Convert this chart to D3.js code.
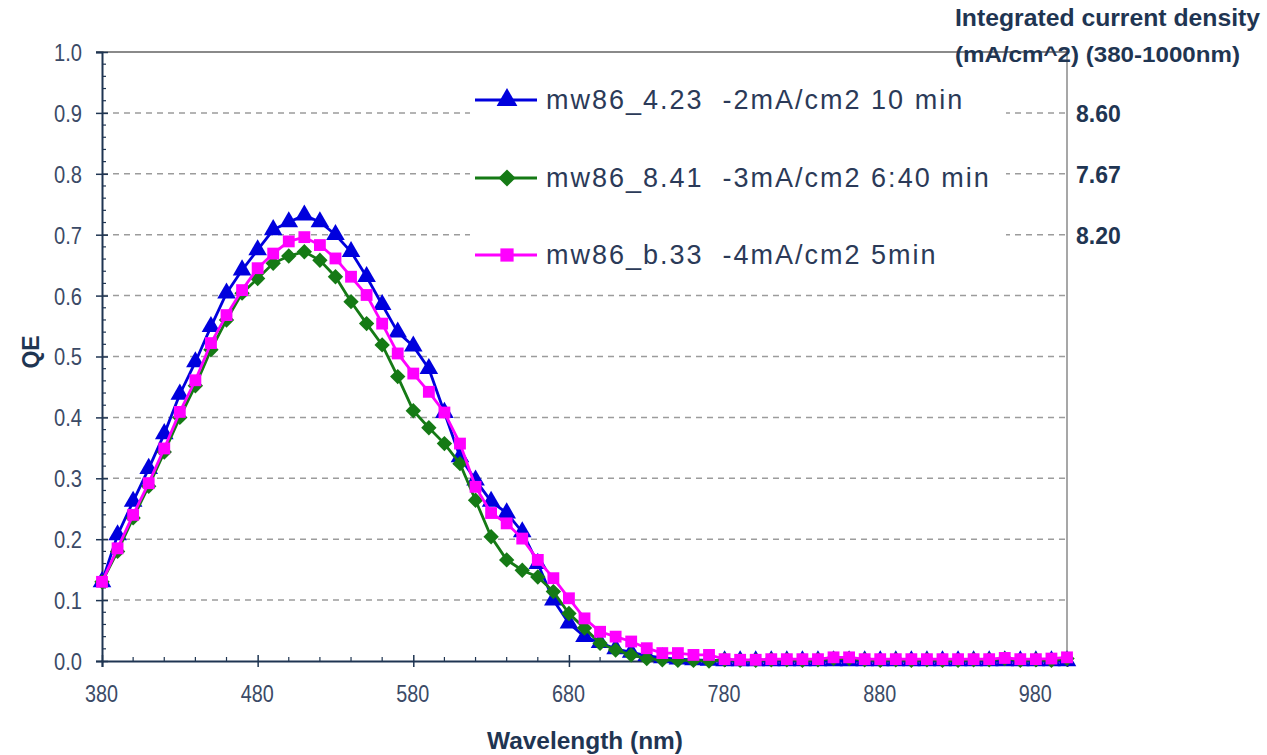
<!DOCTYPE html>
<html>
<head>
<meta charset="utf-8">
<script src="https://cdn.jsdelivr.net/npm/d3@7"></script>
<style>
  html, body { margin: 0; padding: 0; background: #ffffff; }
  svg { display: block; }
  text { font-family: Arial, "Liberation Sans", sans-serif; }
</style>
</head>
<body>
<svg id="chart" width="1267" height="755"></svg>
<script>
// Wavelength grid (nm), 10 nm steps
const wavelengths = d3.range(380, 1001, 10);

// QE per series, one value per wavelength
const qeA = [ // mw86_4.23
  0.130, 0.207, 0.262, 0.316, 0.373, 0.438, 0.491, 0.549, 0.604, 0.642,
  0.675, 0.708, 0.721, 0.732, 0.721, 0.700, 0.672, 0.631, 0.585, 0.540,
  0.517, 0.480, 0.408, 0.335, 0.297, 0.262, 0.243, 0.212, 0.160, 0.100,
  0.062, 0.040, 0.030, 0.020, 0.014, 0.009, 0.005, 0.003, 0.002, 0.001,
  0.000, 0.000, 0.000, 0.000, 0.000, 0.000, 0.000, 0.000, 0.000, 0.000,
  0.000, 0.000, 0.000, 0.000, 0.000, 0.000, 0.000, 0.000, 0.000, 0.000,
  0.000, 0.000, 0.000
];
const qeB = [ // mw86_8.41
  0.130, 0.180, 0.235, 0.287, 0.343, 0.400, 0.452, 0.511, 0.560, 0.604,
  0.628, 0.653, 0.665, 0.672, 0.658, 0.631, 0.590, 0.554, 0.519, 0.467,
  0.411, 0.383, 0.357, 0.324, 0.264, 0.204, 0.166, 0.149, 0.138, 0.114,
  0.078, 0.054, 0.029, 0.018, 0.010, 0.004, 0.002, 0.001, 0.001, 0.000,
  0.002, 0.001, 0.001, 0.002, 0.002, 0.001, 0.002, 0.004, 0.004, 0.002,
  0.001, 0.002, 0.001, 0.002, 0.001, 0.001, 0.002, 0.002, 0.004, 0.001,
  0.002, 0.001, 0.004
];
const qeC = [ // mw86_b.33
  0.130, 0.185, 0.240, 0.292, 0.349, 0.409, 0.461, 0.522, 0.568, 0.609,
  0.645, 0.669, 0.689, 0.696, 0.683, 0.661, 0.631, 0.601, 0.554, 0.505,
  0.472, 0.442, 0.408, 0.357, 0.286, 0.243, 0.226, 0.201, 0.166, 0.136,
  0.103, 0.070, 0.048, 0.040, 0.032, 0.021, 0.013, 0.013, 0.010, 0.010,
  0.003, 0.002, 0.002, 0.003, 0.003, 0.003, 0.003, 0.006, 0.006, 0.003,
  0.003, 0.003, 0.003, 0.003, 0.003, 0.003, 0.003, 0.003, 0.005, 0.003,
  0.003, 0.004, 0.006
];

const seriesNames = [
  "mw86_4.23  -2mA/cm2 10 min",
  "mw86_8.41  -3mA/cm2 6:40 min",
  "mw86_b.33  -4mA/cm2 5min"
];
const seriesColors = ["#0000dd", "#157a15", "#ff00ff"];
const seriesMarkers = ["triangle", "diamond", "square"];

// Integrated current density (mA/cm^2), listed against the QE levels 0.9/0.8/0.7
const integratedLabels = ["8.60", "7.67", "8.20"];
const integratedLevels = [0.9, 0.8, 0.7];

const xTicks = [380, 480, 580, 680, 780, 880, 980];
const yTicks = d3.range(0, 11).map(i => i / 10);

const svg = d3.select("#chart");
const plotLeft = 102, plotRight = 1067, plotTop = 52, plotBottom = 661;

const x = d3.scaleLinear().domain([380, 1000]).range([plotLeft, plotRight]);
const y = d3.scaleLinear().domain([0, 1]).range([plotBottom, plotTop]);

const axisColor = "#1f3552";
const labelColor = "#3b4a66";

// Dashed horizontal grid
svg.append("g")
  .selectAll("line")
  .data(yTicks.filter(v => v > 0 && v < 1))
  .join("line")
  .attr("x1", plotLeft).attr("x2", plotRight)
  .attr("y1", d => y(d)).attr("y2", d => y(d))
  .attr("stroke", "#9c9c9c")
  .attr("stroke-width", 1.5)
  .attr("stroke-dasharray", "6,5");

// Plot frame: top and right edges
svg.append("line")
  .attr("x1", plotLeft - 6).attr("x2", plotRight).attr("y1", plotTop).attr("y2", plotTop)
  .attr("stroke", "#8a8a8a").attr("stroke-width", 2);
svg.append("line")
  .attr("x1", plotRight).attr("x2", plotRight).attr("y1", plotTop).attr("y2", plotBottom)
  .attr("stroke", "#8a8a8a").attr("stroke-width", 1.5);

// Legend panel (white, hides the grid behind it)
const legendG = svg.append("g");
legendG.append("rect")
  .attr("x", 470).attr("y", 74).attr("width", 536).attr("height", 200)
  .attr("fill", "#ffffff");

// Y axis
const yAxis = svg.append("g")
  .attr("transform", `translate(${plotLeft},0)`)
  .call(d3.axisLeft(y).tickValues(yTicks).tickFormat(d3.format(".1f")).tickSize(6));
yAxis.select(".domain").attr("stroke", axisColor).attr("stroke-width", 2);
yAxis.selectAll(".tick line").attr("stroke", axisColor).attr("stroke-width", 1.5).attr("x1", 6);
yAxis.selectAll(".tick text")
  .attr("x", -20).attr("dy", "0.35em")
  .attr("fill", labelColor)
  .attr("font-family", "Arial, 'Liberation Sans', sans-serif")
  .style("font-size", "24px")
  .attr("textLength", 28).attr("lengthAdjust", "spacingAndGlyphs");

// Y minor ticks (inside)
svg.append("g")
  .selectAll("line")
  .data(d3.range(0, 51).map(i => i / 50).filter((v, i) => i % 5 !== 0))
  .join("line")
  .attr("x1", plotLeft).attr("x2", plotLeft + 4)
  .attr("y1", d => y(d)).attr("y2", d => y(d))
  .attr("stroke", axisColor).attr("stroke-width", 1.2);

// X axis
const xAxis = svg.append("g")
  .attr("transform", `translate(0,${plotBottom})`)
  .call(d3.axisBottom(x).tickValues(xTicks).tickFormat(d3.format("d")).tickSize(6));
xAxis.select(".domain").attr("stroke", axisColor).attr("stroke-width", 2);
xAxis.selectAll(".tick line").attr("stroke", axisColor).attr("stroke-width", 1.5).attr("y1", -6);
xAxis.selectAll(".tick text")
  .attr("x", -1).attr("y", 41).attr("dy", 0)
  .attr("fill", labelColor)
  .attr("font-family", "Arial, 'Liberation Sans', sans-serif")
  .style("font-size", "24px")
  .attr("textLength", 33).attr("lengthAdjust", "spacingAndGlyphs");

// X minor ticks (inside)
svg.append("g")
  .selectAll("line")
  .data(d3.range(380, 1001, 20).filter(v => (v - 380) % 100 !== 0))
  .join("line")
  .attr("x1", d => x(d)).attr("x2", d => x(d))
  .attr("y1", plotBottom).attr("y2", plotBottom - 4)
  .attr("stroke", axisColor).attr("stroke-width", 1.2);

// Axis titles
svg.append("text")
  .attr("transform", `translate(39,352) rotate(-90)`)
  .attr("text-anchor", "middle")
  .attr("fill", axisColor)
  .style("font-size", "23px").style("font-weight", "bold")
  .text("QE");
svg.append("text")
  .attr("x", 585).attr("y", 749)
  .attr("text-anchor", "middle")
  .attr("fill", axisColor)
  .style("font-size", "24px").style("font-weight", "bold")
  .attr("textLength", 196).attr("lengthAdjust", "spacingAndGlyphs")
  .text("Wavelength (nm)");

// Right-hand title and integrated current values
svg.append("text")
  .attr("x", 955).attr("y", 26)
  .attr("fill", axisColor)
  .style("font-size", "23px").style("font-weight", "bold")
  .attr("textLength", 305).attr("lengthAdjust", "spacingAndGlyphs")
  .text("Integrated current density");
svg.append("text")
  .attr("x", 955).attr("y", 62)
  .attr("fill", axisColor)
  .style("font-size", "22px").style("font-weight", "bold")
  .attr("textLength", 285).attr("lengthAdjust", "spacingAndGlyphs")
  .text("(mA/cm^2) (380-1000nm)");
svg.append("g")
  .selectAll("text")
  .data(integratedLabels)
  .join("text")
  .attr("x", plotRight + 9)
  .attr("y", (d, i) => y(integratedLevels[i]) + 9.5)
  .attr("fill", axisColor)
  .style("font-size", "23px").style("font-weight", "bold")
  .text(d => d);

// Marker shapes
function markerPath(kind, scale = 1) {
  if (kind === "triangle") return d3.symbol().type(d3.symbolTriangle).size(150 * scale)();
  if (kind === "square") return d3.symbol().type(d3.symbolSquare).size(140 * scale)();
  return d3.symbol().type(d3.symbolSquare).size(118 * scale)();
}
function markerRotate(kind) { return kind === "diamond" ? " rotate(45)" : ""; }

const allSeries = [qeA, qeB, qeC];
const line = d3.line().x(d => x(d[0])).y(d => y(d[1]));

allSeries.forEach((vals, si) => {
  const pts = wavelengths.map((w, i) => [w, vals[i]]);
  const g = svg.append("g");
  g.append("path")
    .datum(pts)
    .attr("d", line)
    .attr("fill", "none")
    .attr("stroke", seriesColors[si])
    .attr("stroke-width", 2.8);
  g.selectAll("path.mk")
    .data(pts)
    .join("path")
    .attr("class", "mk")
    .attr("d", markerPath(seriesMarkers[si]))
    .attr("transform", d => `translate(${x(d[0])},${y(d[1])})${markerRotate(seriesMarkers[si])}`)
    .attr("fill", seriesColors[si]);
});

// Legend entries
const legendRows = [100, 178, 255];
seriesNames.forEach((name, i) => {
  const ly = legendRows[i];
  legendG.append("line")
    .attr("x1", 475).attr("x2", 537).attr("y1", ly).attr("y2", ly)
    .attr("stroke", seriesColors[i]).attr("stroke-width", 2.8);
  legendG.append("path")
    .attr("d", markerPath(seriesMarkers[i], 1.25))
    .attr("transform", `translate(507,${ly})${markerRotate(seriesMarkers[i])}`)
    .attr("fill", seriesColors[i]);
  legendG.append("text")
    .attr("x", 546).attr("y", ly + 9)
    .attr("fill", "#2b3a58")
    .style("font-size", "27px")
    .style("letter-spacing", "2px")
    .style("white-space", "pre")
    .text(name);
});
legendG.raise();
</script>
</body>
</html>
